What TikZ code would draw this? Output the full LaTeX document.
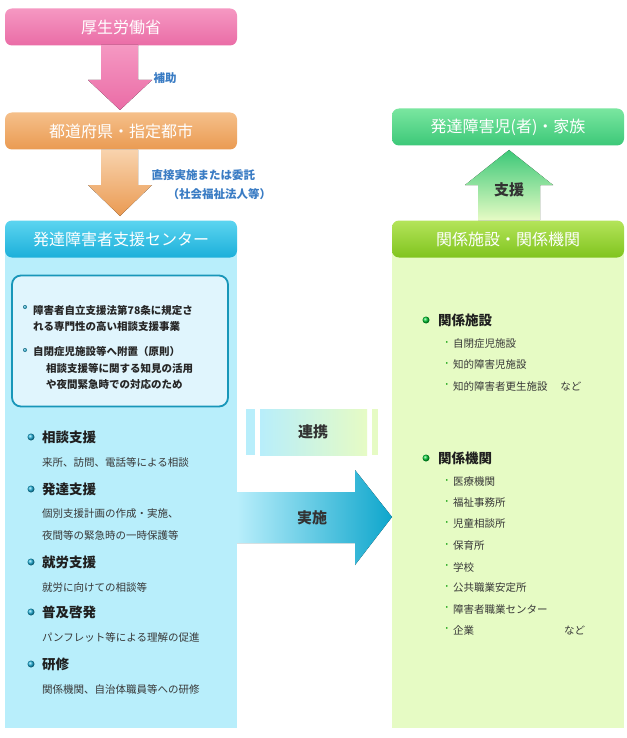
\documentclass[tikz,border=0pt]{standalone}
\usepackage{fontspec}
\setmainfont{Noto Sans CJK JP}
\definecolor{leftcol}{HTML}{B8EEFB}
\definecolor{rightcol}{HTML}{E6FBC4}
\definecolor{lblblue}{HTML}{3A7CC4}
\definecolor{pinkA}{HTML}{F598C2}
\definecolor{pinkB}{HTML}{EA6CA6}
\definecolor{orA}{HTML}{F5C08A}
\definecolor{orB}{HTML}{EA9A52}
\definecolor{cyA}{HTML}{5CD4F0}
\definecolor{cyB}{HTML}{1CB0DA}
\definecolor{grA}{HTML}{7AE6A0}
\definecolor{grB}{HTML}{3CC878}
\definecolor{lmA}{HTML}{B4E45A}
\definecolor{lmB}{HTML}{80C41E}
\definecolor{arrB}{HTML}{0EA6CC}
\begin{document}
\begin{tikzpicture}[x=1pt,y=-1pt,
  hdr/.style={rounded corners=7pt,minimum width=232pt,minimum height=37pt,text=white,font=\fontsize{16}{18}\selectfont,inner sep=0pt},
  lbl/.style={text=lblblue,font=\bfseries\fontsize{11.5}{14}\selectfont},
  body/.style={text=black!78,font=\fontsize{10.5}{13}\selectfont,anchor=west,inner sep=0pt},
  head/.style={text=black!88,font=\bfseries\fontsize{13.5}{15}\selectfont,anchor=west,inner sep=0pt},
  bdot/.style={circle,inner sep=0pt,minimum size=7pt,ball color=#1},
  sdot/.style={text=green!60!black,font=\fontsize{8}{9}\selectfont,anchor=east,inner sep=1pt}]
\useasboundingbox (0,0) rectangle (626,738);
\fill[white] (0,0) rectangle (626,738);
% columns
\fill[leftcol] (5,240) rectangle (237,728);
\fill[rightcol] (392,240) rectangle (624,728);
% headers
\node[hdr,top color=pinkA,bottom color=pinkB] (mhlw) at (121,27) {厚生労働省};
\node[hdr,top color=orA,bottom color=orB] (pref) at (121,131) {都道府県・指定都市};
\node[hdr,top color=cyA,bottom color=cyB] (ctr) at (121,239) {発達障害者支援センター};
\node[hdr,top color=grA,bottom color=grB] (fam) at (508,127) {発達障害児(者)・家族};
\node[hdr,top color=lmA,bottom color=lmB] (rel) at (508,239) {関係施設・関係機関};
% pink arrow
\fill[top color=pinkA,bottom color=pinkB] (101,45) -- (138,45) -- (138,80) -- (152,80) -- (120,110) -- (88,80) -- (101,80) -- cycle;
\node[lbl,anchor=west] (hojo) at (150,78) {補助};
% orange arrow
\fill[top color=orA!70,bottom color=orB] (101,150) -- (138,150) -- (138,185) -- (152,185) -- (120,216) -- (88,185) -- (101,185) -- cycle;
\node[lbl,anchor=west] (itaku) at (148,175) {直接実施または委託};
\node[lbl,anchor=west] (shakai) at (164,194) {（社会福祉法人等）};
% green arrow up
\fill[bottom color=rightcol,top color=grB] (478,220) -- (540,220) -- (540,185) -- (553,185) -- (509,150) -- (465,185) -- (478,185) -- cycle;
\node[font=\bfseries\fontsize{15}{17}\selectfont,text=black!80] (shien) at (509,190) {支援};
% inner box
\node[draw=cyB!85!black,line width=1.8pt,fill=cyan!12,rounded corners=9pt,minimum width=216pt,minimum height=131pt] (inner) at (120,341) {};
\node[bdot=cyB,minimum size=4pt] (d1) at (25,307) {};
\node[body,text=black!85,font=\bfseries\fontsize{10.5}{13}\selectfont] (t1) at (33,318) {\parbox{200pt}{\baselineskip=16pt 障害者自立支援法第78条に規定さ\\れる専門性の高い相談支援事業}};
\node[bdot=cyB,minimum size=4pt] (d2) at (25,350) {};
\node[body,text=black!85,font=\bfseries\fontsize{10.5}{13}\selectfont] (t2) at (33,351) {自閉症児施設等へ附置（原則）};
\node[body,text=black!85,font=\bfseries\fontsize{10.5}{13}\selectfont] (t3) at (46,376) {\parbox{190pt}{\baselineskip=16pt 相談支援等に関する知見の活用\\や夜間緊急時での対応のため}};
% renkei band
\fill[leftcol] (246,409) rectangle (255,455);
\fill[left color=leftcol,right color=rightcol] (260,409) rectangle (367,455);
\fill[rightcol] (372,409) rectangle (378,455);
\node[font=\bfseries\fontsize{15}{17}\selectfont,text=black!80] (renkei) at (313,432) {連携};
% jisshi arrow
\fill[left color=leftcol,right color=arrB] (237,492) -- (355,492) -- (355,470) -- (392,517) -- (355,565) -- (355,543) -- (237,543) -- cycle;
\node[font=\bfseries\fontsize{15}{17}\selectfont,text=black!80] (jisshi) at (312,518) {実施};
% left items
\foreach \y/\h/\b in {437/相談支援/{来所、訪問、電話等による相談},562/就労支援/{就労に向けての相談等},612/普及啓発/{パンフレット等による理解の促進},664/研修/{関係機関、自治体職員等への研修}}{
  \node[bdot=cyB] at (31,\y) {};
  \node[head] at (42,\y) {\h};
  \node[body] at (42,\y+25) {\b};
}
\node[bdot=cyB] (hd) at (31,489) {};
\node[head] (hatatsu) at (42,489) {発達支援};
\node[body] (h1) at (42,514) {個別支援計画の作成・実施、};
\node[body] (h2) at (42,535) {夜間等の緊急時の一時保護等};
% right items
\node[bdot=green!60!teal] (g1) at (426,320) {};
\node[head] (shisetsu) at (438,320) {関係施設};
\foreach \y/\t in {344/自閉症児施設,365/知的障害児施設,386/{知的障害者更生施設\hspace{1.2em}など}}{
  \node[sdot] at (452,\y) {・};
  \node[body] at (453,\y) {\t};
}
\node[bdot=green!60!teal] (g2) at (426,458) {};
\node[head] (kikan) at (438,458) {関係機関};
\foreach \y/\t in {482/医療機関,503/福祉事務所,524/児童相談所,546/保育所,567/学校,588/公共職業安定所,609/障害者職業センター,630/企業}{
  \node[sdot] at (452,\y) {・};
  \node[body] at (453,\y) {\t};
}
\node[body] (nado) at (564,630) {など};
\end{tikzpicture}
\end{document}
